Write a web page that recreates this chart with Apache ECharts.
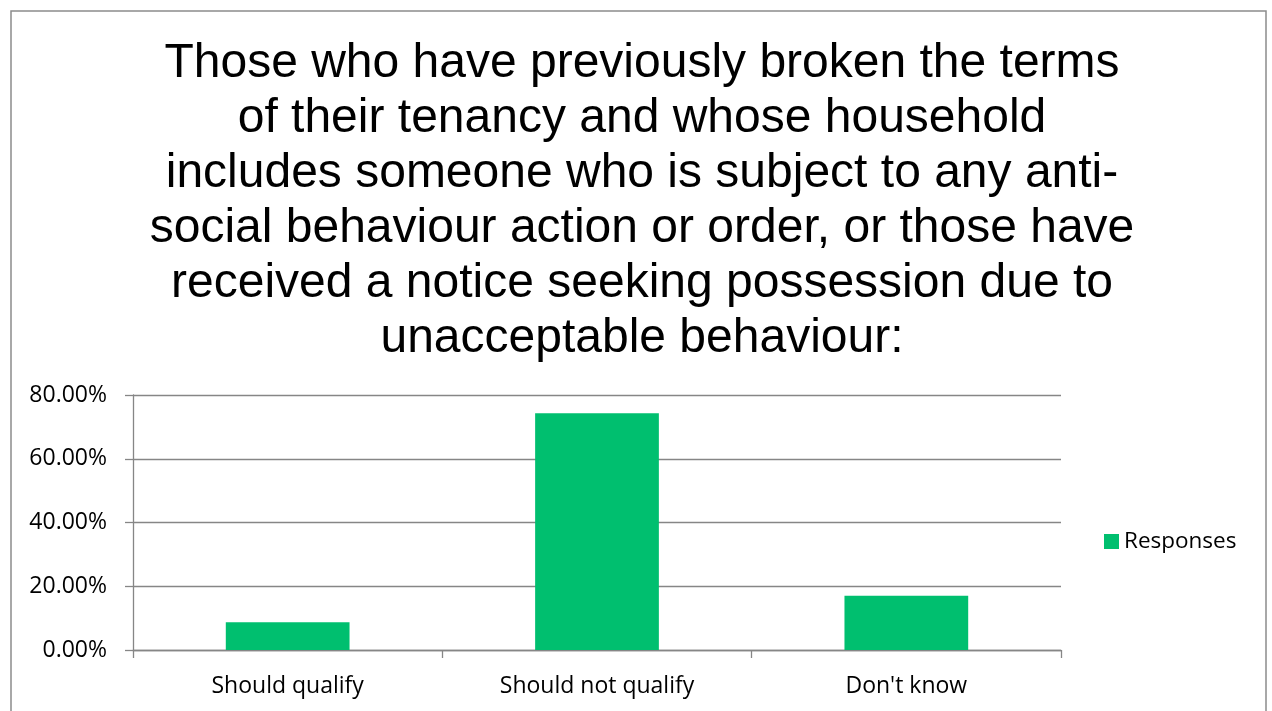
<!DOCTYPE html>
<html>
<head>
<meta charset="utf-8">
<script src="https://cdn.jsdelivr.net/npm/echarts@6/dist/echarts.min.js"></script>
<style>
  html, body { margin: 0; padding: 0; background: #fff; }
  #chart { width: 1272px; height: 711px; }
</style>
</head>
<body>
<div id="chart"></div>
<script>
// data
var categories = ["Should qualify", "Should not qualify", "Don't know"];
var responses = [8.7, 74.3, 17.0];
var seriesName = "Responses";
var titleText = "Those who have previously broken the terms\nof their tenancy and whose household\nincludes someone who is subject to any anti-\nsocial behaviour action or order, or those have\nreceived a notice seeking possession due to\nunacceptable behaviour:";

var chart = echarts.init(document.getElementById("chart"));
var labelFont = "'Open Sans', sans-serif";

chart.setOption({
  animation: false,
  backgroundColor: "#fff",
  graphic: [{
    type: "rect",
    shape: { x: 11, y: 11, width: 1255, height: 720 },
    style: { fill: "none", stroke: "#8c8c8c", lineWidth: 1.5 },
    silent: true
  }],
  title: {
    text: titleText,
    left: 637,
    textAlign: "center",
    top: 31,
    textStyle: {
      fontFamily: "'Liberation Sans', Arial, sans-serif",
      fontWeight: "normal",
      fontSize: 48,
      lineHeight: 55,
      color: "#000"
    }
  },
  legend: {
    data: [seriesName],
    left: 1099,
    top: 525,
    itemWidth: 15,
    itemHeight: 15,
    itemGap: 6,
    icon: "rect",
    textStyle: { fontFamily: labelFont, fontSize: 22.5, color: "#000" }
  },
  grid: { left: 133, right: 211, top: 395, bottom: 61 },
  xAxis: {
    type: "category",
    data: categories,
    axisLine: { lineStyle: { color: "#868686", width: 1.3 } },
    axisTick: { show: true, length: 8, alignWithLabel: false, lineStyle: { color: "#868686", width: 1.3 } },
    axisLabel: { margin: 25, fontFamily: labelFont, fontSize: 23, color: "#000" }
  },
  yAxis: {
    type: "value",
    min: 0,
    max: 80,
    interval: 20,
    axisLine: { show: true, lineStyle: { color: "#868686", width: 1.3 } },
    axisTick: { show: true, length: 8, lineStyle: { color: "#868686", width: 1.3 } },
    splitLine: { lineStyle: { color: "#868686", width: 1.3 } },
    axisLabel: {
      margin: 26,
      fontFamily: labelFont,
      fontSize: 23,
      color: "#000",
      formatter: function (v) { return v.toFixed(2) + "%"; }
    }
  },
  series: [{
    name: seriesName,
    type: "bar",
    data: responses,
    barWidth: "40%",
    itemStyle: { color: "#00bf6f" }
  }]
});
</script>
</body>
</html>
